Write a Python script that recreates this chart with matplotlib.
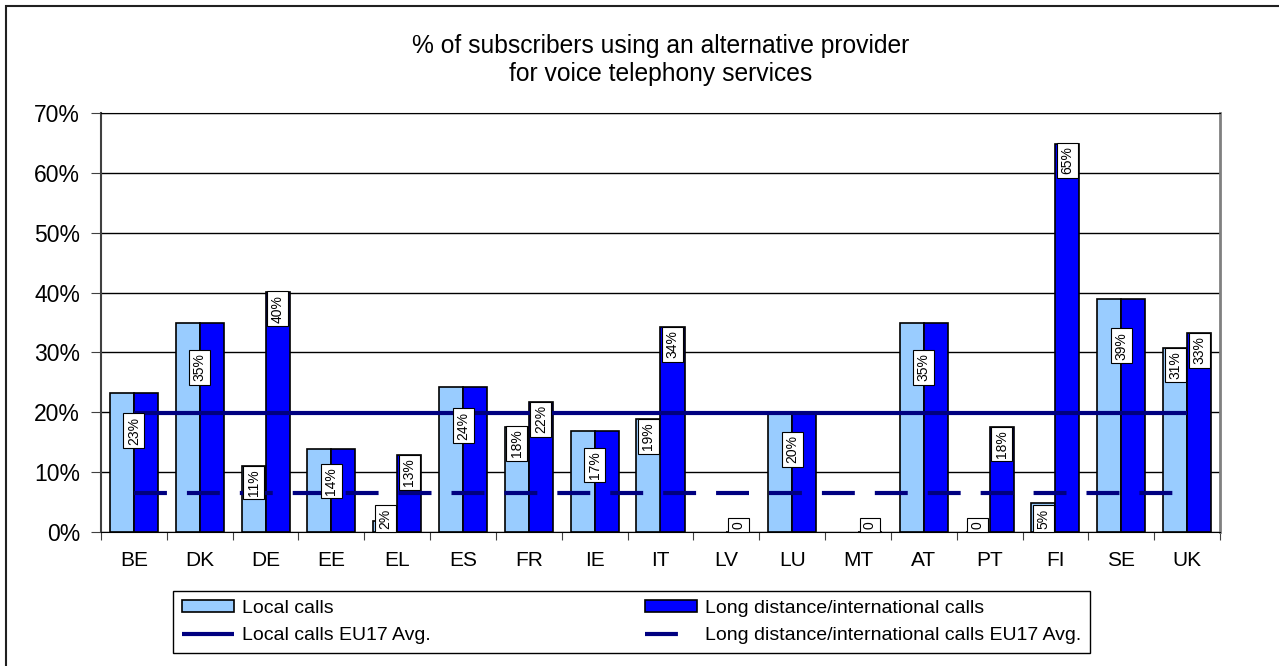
import numpy as np
import matplotlib
matplotlib.use('Agg')
from matplotlib import pyplot as plt
from matplotlib.patches import Rectangle

plt.rcParams['font.family'] = ['Liberation Sans', 'DejaVu Sans']

countries = ['BE', 'DK', 'DE', 'EE', 'EL', 'ES', 'FR', 'IE', 'IT', 'LV',
             'LU', 'MT', 'AT', 'PT', 'FI', 'SE', 'UK']
local_calls = [23.2, 35.0, 11.0, 13.9, 1.8, 24.2, 17.6, 16.9, 18.8, np.nan,
               19.8, np.nan, 35.0, 0.0, 4.9, 39.0, 30.7]
long_calls = [23.2, 35.0, 40.1, 13.9, 12.8, 24.2, 21.7, 16.9, 34.2, 0.0,
              19.8, 0.0, 35.0, 17.5, 64.9, 39.0, 33.2]
local_avg = 19.8
long_avg = 6.5

title = '% of subscribers using an alternative provider\nfor voice telephony services'


def label_text(v):
    if v == 0:
        return '0'
    return '%d%%' % round(v)


def main():
    fig = plt.figure(figsize=(12.79, 6.66), dpi=100)
    ax = fig.add_axes([101 / 1279, 1 - 532 / 666, 1119 / 1279, 419 / 666])

    x = np.arange(len(countries))
    w = 0.365
    b1 = ax.bar(x - w / 2, local_calls, w, color='#99CCFF', edgecolor='black',
                linewidth=1.2, zorder=2, label='Local calls')
    b2 = ax.bar(x + w / 2, long_calls, w, color='#0000FF', edgecolor='black',
                linewidth=1.2, zorder=2, label='Long distance/international calls')

    l1, = ax.plot(x, np.full(len(x), local_avg), color='#000080', lw=3,
                  solid_capstyle='butt', zorder=3, label='Local calls EU17 Avg.')
    l2, = ax.plot(x, np.full(len(x), long_avg), color='#000080', lw=3,
                  dashes=(7.9, 4.8), dash_capstyle='butt', zorder=3,
                  label='Long distance/international calls EU17 Avg.')

    # data labels (one shared label when both bars are equal)
    box = dict(boxstyle='square,pad=0.25', fc='white', ec='black', lw=0.8)
    for i in range(len(countries)):
        lv, gv = local_calls[i], long_calls[i]
        if not np.isnan(lv) and abs(lv - gv) < 0.5:
            ax.text(x[i], 0.9 * lv - 4, label_text(lv), rotation=90, ha='center',
                    va='center', fontsize=10, bbox=box, zorder=4)
            continue
        for xp, v in ((x[i] - w / 2, lv), (x[i] + w / 2, gv)):
            if np.isnan(v):
                continue
            if v < 6:
                ax.text(xp, 0.5, label_text(v), rotation=90, ha='center',
                        va='bottom', fontsize=10, bbox=box, zorder=4)
            else:
                ax.text(xp, v - 0.5, label_text(v), rotation=90, ha='center',
                        va='top', fontsize=10, bbox=box, zorder=4)

    ax.set_xlim(-0.5, len(countries) - 0.5)
    ax.set_ylim(0, 70)
    ax.set_yticks(np.arange(0, 71, 10))
    ax.set_yticklabels(['%d%%' % t for t in range(0, 71, 10)], fontsize=16.5)
    ax.yaxis.grid(True, color='black', lw=1)
    ax.set_axisbelow(True)

    ax.set_xticks(np.arange(-0.5, len(countries)), labels=[])
    ax.set_xticks(x, labels=countries, minor=True, fontsize=15)
    ax.tick_params(axis='x', which='major', length=6, color='#404040')
    ax.tick_params(axis='x', which='minor', length=0, pad=14)
    ax.tick_params(axis='y', length=7, color='#404040', pad=8)

    ax.spines['left'].set_color('#404040')
    ax.spines['left'].set_linewidth(1.5)
    ax.spines['right'].set_color('#808080')
    ax.spines['right'].set_linewidth(2)
    ax.spines['top'].set_color('black')
    ax.spines['bottom'].set_color('black')

    fig.text(660.5 / 1279, 1 - 60 / 666, title, ha='center', va='center',
             fontsize=17.7, linespacing=1.22)

    leg = fig.legend(handles=[b1, l1, b2, l2], ncol=2, mode='expand',
                     loc='lower left',
                     bbox_to_anchor=(173 / 1279, 1 - 653 / 666, 917 / 1279, 66 / 666),
                     bbox_transform=fig.transFigure, borderaxespad=0,
                     fancybox=False, framealpha=1, edgecolor='black',
                     prop={'size': 14},
                     handlelength=2.7, handleheight=0.6, handletextpad=0.4,
                     labelspacing=0.55, borderpad=0.45, columnspacing=1)
    leg.get_frame().set_linewidth(1)

    # outer chart border
    fig.patches.append(Rectangle((6 / 1279, -0.1), 1.2, 1.1 - 6 / 666,
                                 transform=fig.transFigure, fill=False,
                                 ec='#202020', lw=1.5))

    fig.savefig('out.png', dpi=100)


if __name__ == '__main__':
    main()
